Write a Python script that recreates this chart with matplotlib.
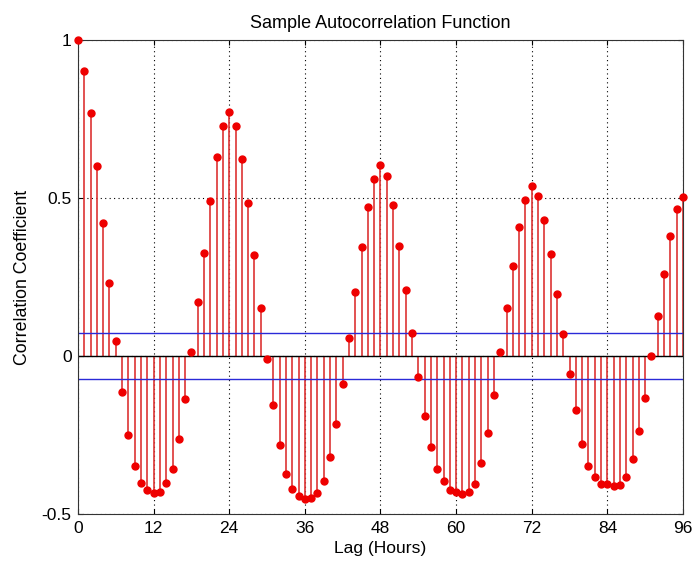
import numpy as np
import matplotlib.pyplot as plt

plt.rcParams['font.family'] = ['Liberation Sans', 'DejaVu Sans']

lags = np.arange(0, 97)
acf = [1.0, 0.903, 0.768, 0.601, 0.42, 0.232, 0.047, -0.115, -0.251, -0.347,
       -0.401, -0.424, -0.435, -0.429, -0.401, -0.357, -0.264, -0.137, 0.012, 0.17,
       0.327, 0.49, 0.631, 0.728, 0.772, 0.728, 0.622, 0.483, 0.32, 0.153,
       -0.011, -0.154, -0.282, -0.373, -0.422, -0.443, -0.454, -0.448, -0.435, -0.396,
       -0.321, -0.216, -0.089, 0.056, 0.201, 0.346, 0.473, 0.561, 0.605, 0.571,
       0.478, 0.349, 0.21, 0.074, -0.066, -0.19, -0.287, -0.357, -0.396, -0.424,
       -0.43, -0.437, -0.431, -0.405, -0.34, -0.243, -0.123, 0.012, 0.153, 0.284,
       0.407, 0.495, 0.539, 0.507, 0.429, 0.324, 0.196, 0.069, -0.058, -0.172,
       -0.277, -0.348, -0.383, -0.404, -0.406, -0.411, -0.409, -0.383, -0.326, -0.237,
       -0.132, -0.001, 0.126, 0.258, 0.381, 0.465, 0.504]
bound = 0.074

fig = plt.figure(figsize=(6.92, 5.69), dpi=100)
ax = fig.add_axes([0.1127, 0.0967, 0.8743, 0.833])

ml, sl, bl = ax.stem(lags, acf, basefmt='k-')
plt.setp(sl, color='#dd3333', linewidth=1.2)
plt.setp(ml, color='#ee0000', markersize=5, clip_on=False, zorder=4)
plt.setp(bl, color='black', linewidth=1)

ax.axhline(bound, color='#2a2ad8', linewidth=1)
ax.axhline(-bound, color='#2a2ad8', linewidth=1)

ax.set_xlim(0, 96)
ax.set_ylim(-0.5, 1)
ax.set_xticks(np.arange(0, 97, 12))
ax.set_yticks([-0.5, 0, 0.5, 1])
ax.set_yticklabels(['-0.5', '0', '0.5', '1'])
ax.grid(True, color='black', linestyle=(0, (1, 3)), linewidth=0.8)
ax.tick_params(direction='in', labelsize=12.5, top=True, right=True)
ax.tick_params(axis='x', pad=5)
ax.tick_params(axis='y', pad=4.5)
for s in ax.spines.values():
    s.set_color('#333333')

ax.set_title('Sample Autocorrelation Function', fontsize=13, pad=9)
ax.set_xlabel('Lag (Hours)', fontsize=12.6, labelpad=4)
ax.set_ylabel('Correlation Coefficient', fontsize=12.8, labelpad=8)

fig.savefig('out.png', dpi=100)
